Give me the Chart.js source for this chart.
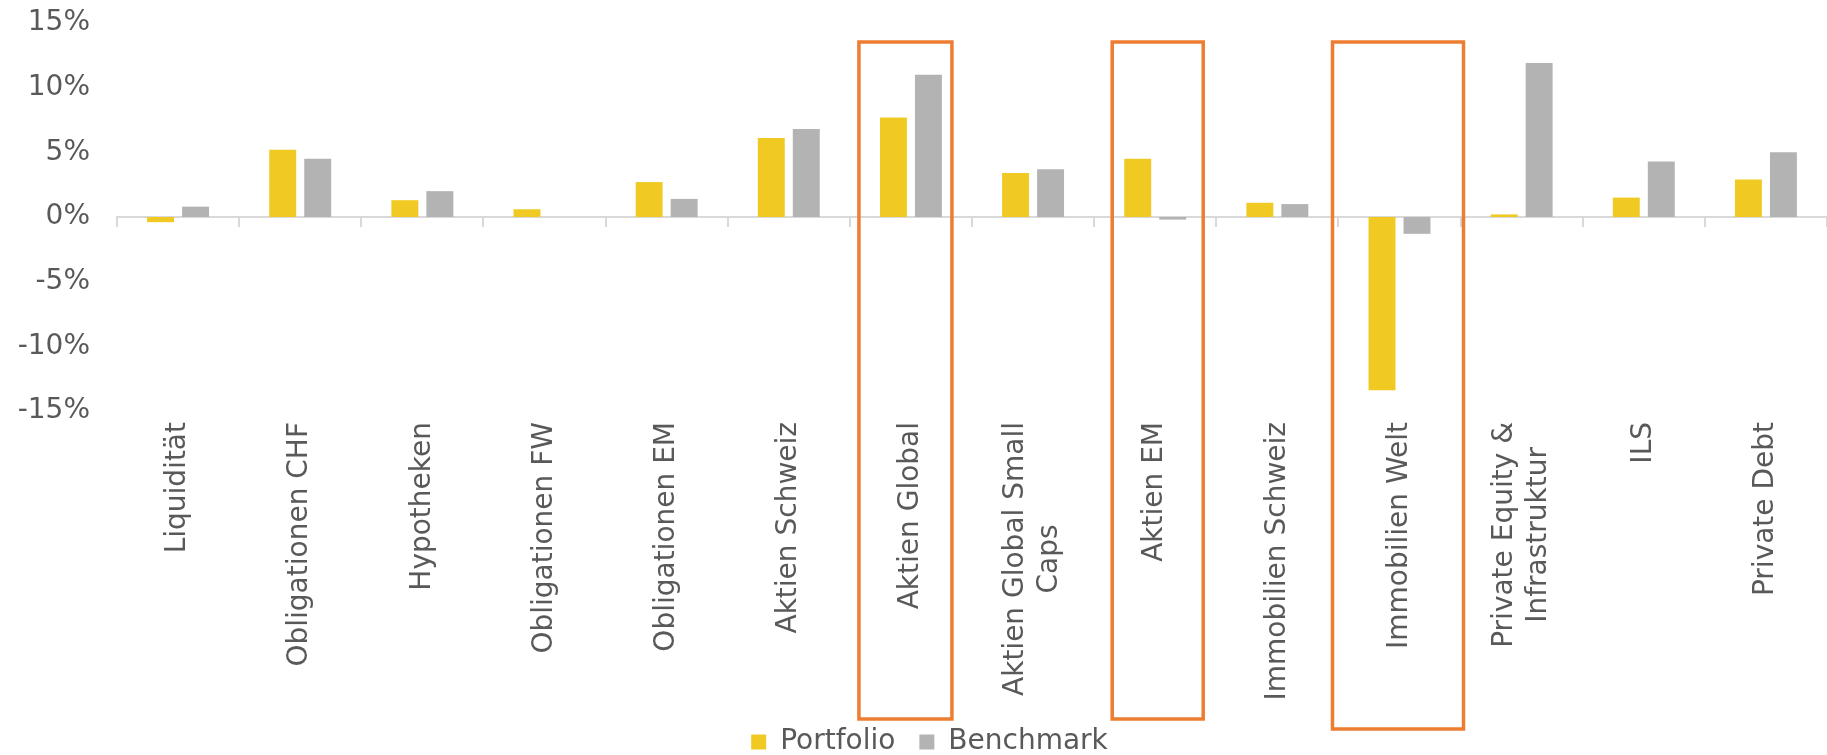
<!DOCTYPE html>
<html>
<head>
<meta charset="utf-8">
<script src="https://cdn.jsdelivr.net/npm/chart.js@4"></script>
<style>
  html, body { margin: 0; padding: 0; background: #fff; }
  #wrap { width: 1827px; height: 755px; }
</style>
</head>
<body>
<div id="wrap"><canvas id="chart"></canvas></div>
<script>
const categories = [
  'Liquidität', 'Obligationen CHF', 'Hypotheken', 'Obligationen FW', 'Obligationen EM',
  'Aktien Schweiz', 'Aktien Global', ['Aktien Global Small', 'Caps'], 'Aktien EM',
  'Immobilien Schweiz', 'Immobilien Welt', ['Private Equity &', 'Infrastruktur'], 'ILS', 'Private Debt'
];
const portfolio = [-0.4, 5.2, 1.3, 0.6, 2.7, 6.1, 7.7, 3.4, 4.5, 1.1, -13.4, 0.2, 1.5, 2.9];
const benchmark = [0.8, 4.5, 2.0, 0.0, 1.4, 6.8, 11.0, 3.7, -0.2, 1.0, -1.3, 11.9, 4.3, 5.0];
const yTicks = [-15, -10, -5, 0, 5, 10, 15];
// categories framed in orange
const highlighted = [6, 8, 10];

// box geometry, px relative to category centre / chart area
const boxStyle = {
  6:  { left: -52, right: 41, bottom: 308 },
  8:  { left: -43, right: 48, bottom: 308 },
  10: { left: -67, right: 64, bottom: 318 },
  top: 19, color: '#ED7D31', width: 3.5
};

const textColor = '#595959';
const fontFamily = "'DejaVu Sans', Verdana, sans-serif";
Chart.defaults.font.family = fontFamily;
Chart.defaults.font.size = 28;
Chart.defaults.color = textColor;

const legendPad = 24;

// category labels: rotated, lines centred on each other, block ends just under the plot
const categoryLabels = {
  id: 'categoryLabels',
  afterLayout(chart) {
    // legend sits a bit right of the canvas centre in the original
    chart.legend.left += 11;
    chart.legend.right += 11;
  },
  afterDraw(chart) {
    const ctx = chart.ctx;
    const x = chart.scales.x;
    const top = chart.chartArea.bottom + 11;
    const lh = 34;
    ctx.save();
    ctx.font = '28px ' + fontFamily;
    ctx.fillStyle = textColor;
    ctx.textAlign = 'center';
    ctx.textBaseline = 'middle';
    categories.forEach((lab, i) => {
      const lines = Array.isArray(lab) ? lab : [lab];
      const maxW = Math.max(...lines.map(l => ctx.measureText(l).width));
      const cx = x.getPixelForValue(i);
      lines.forEach((l, j) => {
        ctx.save();
        ctx.translate(cx + (j - (lines.length - 1) / 2) * lh, top);
        ctx.rotate(-Math.PI / 2);
        ctx.fillText(l, -maxW / 2, 0);
        ctx.restore();
      });
    });
    ctx.restore();
  }
};

const highlightBoxes = {
  id: 'highlightBoxes',
  afterDraw(chart) {
    const ctx = chart.ctx;
    const x = chart.scales.x, y = chart.scales.y;
    const top = y.getPixelForValue(yTicks[yTicks.length - 1]) + boxStyle.top;
    ctx.save();
    ctx.strokeStyle = boxStyle.color;
    ctx.lineWidth = boxStyle.width;
    highlighted.forEach(i => {
      const b = boxStyle[i];
      const c = x.getPixelForValue(i);
      const bottom = chart.chartArea.bottom + b.bottom;
      ctx.strokeRect(c + b.left, top, b.right - b.left, bottom - top);
    });
    ctx.restore();
  }
};

const noPad = s => { s.paddingLeft = 0; s.paddingRight = 0; s.paddingTop = 0; s.paddingBottom = 0; };

new Chart(document.getElementById('chart'), {
  type: 'bar',
  data: {
    labels: categories,
    datasets: [
      { label: 'Portfolio', data: portfolio, backgroundColor: '#F0CA22',
        categoryPercentage: 0.573, barPercentage: 0.77 },
      { label: 'Benchmark', data: benchmark, backgroundColor: '#B3B3B3',
        categoryPercentage: 0.573, barPercentage: 0.77 }
    ]
  },
  options: {
    responsive: true,
    maintainAspectRatio: false,
    devicePixelRatio: 1,
    animation: false,
    layout: { padding: { left: 10, right: 0, top: 23, bottom: -11 } },
    plugins: {
      legend: {
        position: 'bottom',
        labels: { boxWidth: 15, boxHeight: 15, padding: legendPad, color: textColor }
      },
      tooltip: { enabled: false }
    },
    scales: {
      y: {
        min: -15, max: 15,
        afterBuildTicks: s => { s.ticks = yTicks.map(v => ({ value: v })); },
        afterFit: s => { s.width = 107; noPad(s); },
        ticks: { callback: v => v + '%', padding: 27 },
        grid: { display: false, drawTicks: false },
        border: { display: false }
      },
      x: {
        position: { y: 0 },
        offset: true,
        afterFit: noPad,
        ticks: { display: false },
        grid: { offset: true, drawOnChartArea: false, drawTicks: true, tickLength: 9,
                color: '#D9D9D9', lineWidth: 2 },
        border: { color: '#D9D9D9', width: 2 }
      },
      xl: {
        type: 'category',
        position: 'bottom',
        labels: categories,
        offset: true,
        afterFit: s => { s.height = 317 - legendPad; noPad(s); },
        ticks: { display: false },
        grid: { display: false, drawTicks: false },
        border: { display: false }
      }
    }
  },
  plugins: [highlightBoxes, categoryLabels]
});
</script>
</body>
</html>
